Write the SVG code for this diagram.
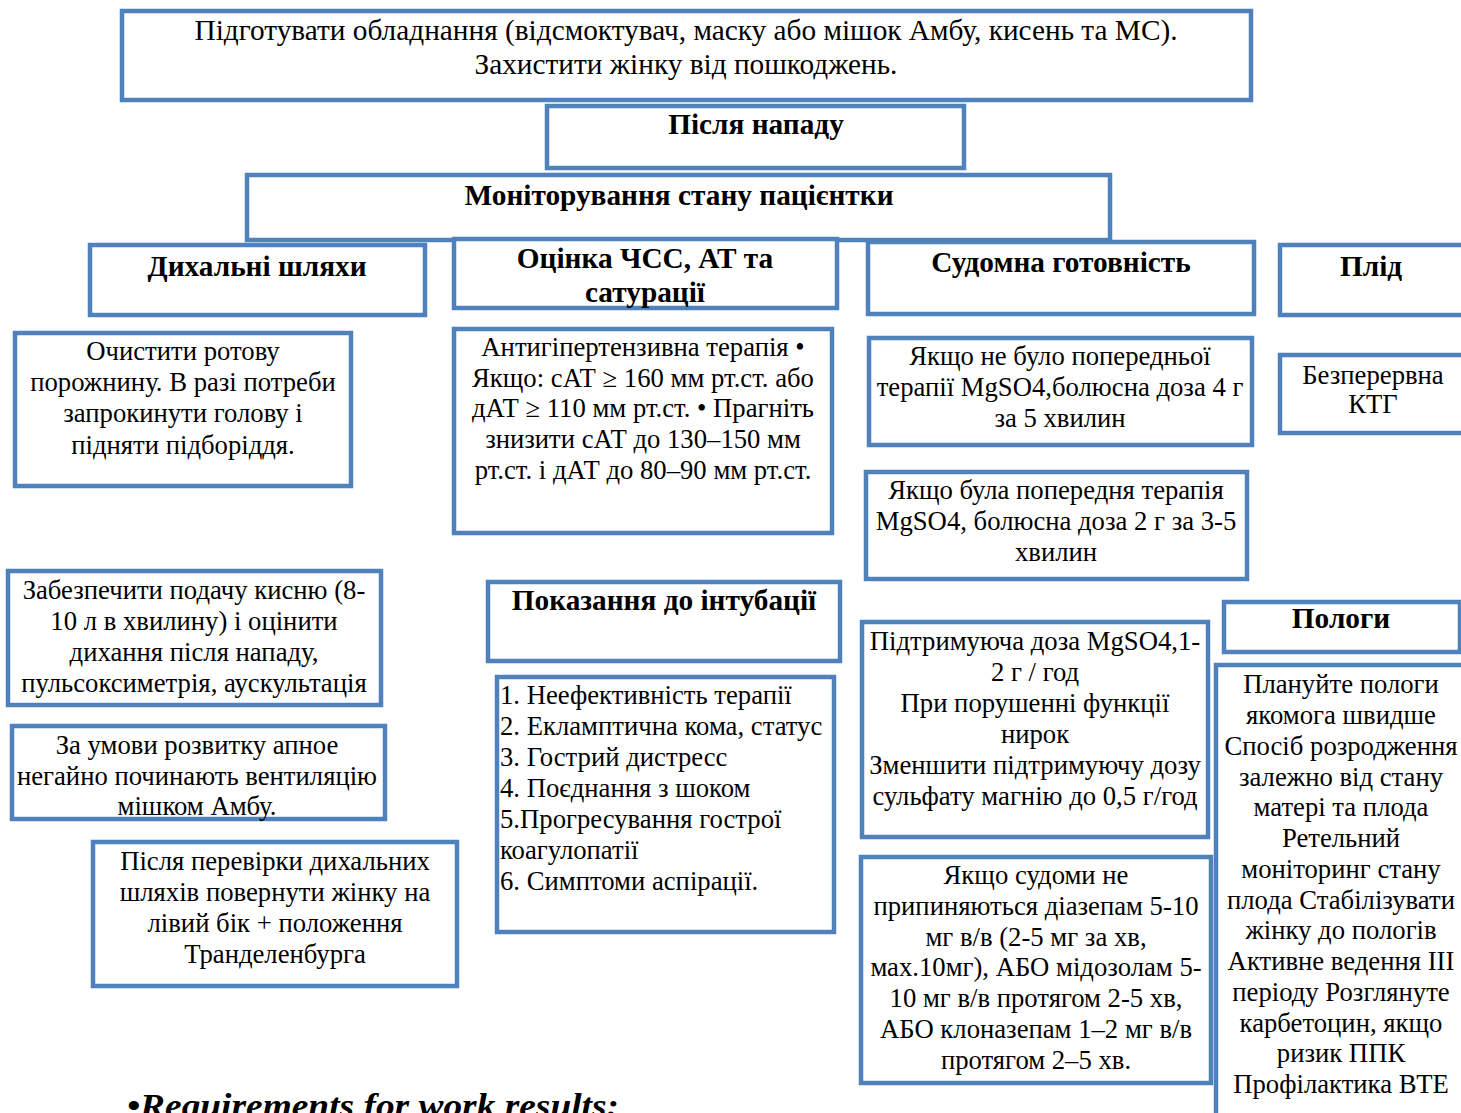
<svg xmlns="http://www.w3.org/2000/svg" width="1461" height="1113" viewBox="0 0 1461 1113">
<style>
.b{fill:#fff;stroke:#4F81BD;stroke-width:4.5}
text{font-family:"Liberation Serif","Times New Roman",serif;fill:#000}
.t{font-size:26.7px;text-anchor:middle}
.h{font-size:29.3px;font-weight:bold;text-anchor:middle}
.l{font-size:26.7px}
.top{font-size:29.3px;text-anchor:middle}
</style>
<rect width="1461" height="1113" fill="#fff"/>
<g id="connectors"></g>
<g id="n-top"><rect class="b" x="122" y="11" width="1129" height="89"/>
<text class="top" x="686" y="40">Підготувати обладнання (відсмоктувач, маску або мішок Амбу, кисень та МС).</text>
<text class="top" x="686" y="74">Захистити жінку від пошкоджень.</text></g>
<g id="n-after"><rect class="b" x="547" y="106" width="417" height="62"/>
<text class="h" x="756" y="134">Після нападу</text></g>
<g id="n-monitor"><rect class="b" x="247" y="175" width="863" height="65"/>
<text class="h" x="679" y="205">Моніторування стану пацієнтки</text></g>
<g id="n-airway"><rect class="b" x="90" y="245" width="335" height="70"/>
<text class="h" x="257" y="276">Дихальні шляхи</text></g>
<g id="n-hr"><rect class="b" x="454" y="239" width="383" height="69"/>
<text class="h" x="645" y="268">Оцінка ЧСС, АТ та</text>
<text class="h" x="645" y="302">сатурації</text></g>
<g id="n-seizure"><rect class="b" x="868" y="242" width="386" height="72"/>
<text class="h" x="1061" y="272">Судомна готовність</text></g>
<g id="n-fetus"><rect class="b" x="1280" y="245" width="190" height="70"/>
<text class="h" x="1371" y="276">Плід</text></g>
<g id="n-clear"><rect class="b" x="15" y="333" width="336" height="153"/>
<text class="t" x="183" y="360">Очистити ротову</text>
<text class="t" x="183" y="391">порожнину. В разі потреби</text>
<text class="t" x="183" y="422">запрокинути голову і</text>
<text class="t" x="183" y="454">підняти підборіддя.</text></g>
<g id="n-antihyp"><rect class="b" x="454" y="329" width="378" height="204"/>
<text class="t" x="643" y="356">Антигіпертензивна терапія •</text>
<text class="t" x="643" y="387">Якщо: сАТ ≥ 160 мм рт.ст. або</text>
<text class="t" x="643" y="417">дАТ ≥ 110 мм рт.ст. • Прагніть</text>
<text class="t" x="643" y="448">знизити сАТ до 130–150 мм</text>
<text class="t" x="643" y="479">рт.ст. і дАТ до 80–90 мм рт.ст.</text></g>
<g id="n-nomg"><rect class="b" x="869" y="338" width="383" height="107"/>
<text class="t" x="1060" y="365">Якщо не було попередньої</text>
<text class="t" x="1060" y="396">терапії MgSO4,болюсна доза 4 г</text>
<text class="t" x="1060" y="427">за 5 хвилин</text></g>
<g id="n-ctg"><rect class="b" x="1280" y="355" width="190" height="78"/>
<text class="t" x="1373" y="384">Безперервна</text>
<text class="t" x="1373" y="413">КТГ</text></g>
<g id="n-wasmg"><rect class="b" x="866" y="472" width="381" height="107"/>
<text class="t" x="1056" y="499">Якщо була попередня терапія</text>
<text class="t" x="1056" y="530">MgSO4, болюсна доза 2 г за 3-5</text>
<text class="t" x="1056" y="561">хвилин</text></g>
<g id="n-oxygen"><rect class="b" x="8" y="571" width="373" height="134"/>
<text class="t" x="194" y="599">Забезпечити подачу кисню (8-</text>
<text class="t" x="194" y="630">10 л в хвилину) і оцінити</text>
<text class="t" x="194" y="661">дихання після нападу,</text>
<text class="t" x="194" y="692">пульсоксиметрія, аускультація</text></g>
<g id="n-intub"><rect class="b" x="488" y="582" width="352" height="79"/>
<text class="h" x="664" y="610">Показання до інтубації</text></g>
<g id="n-intub-list"><rect class="b" x="497" y="677" width="337" height="255"/>
<text class="l" x="500" y="704">1. Неефективність терапії</text>
<text class="l" x="500" y="735">2. Екламптична кома, статус</text>
<text class="l" x="500" y="766">3. Гострий дистресс</text>
<text class="l" x="500" y="797">4. Поєднання з шоком</text>
<text class="l" x="500" y="828">5.Прогресування гострої</text>
<text class="l" x="500" y="859">коагулопатії</text>
<text class="l" x="500" y="890">6. Симптоми аспірації.</text></g>
<g id="n-maint"><rect class="b" x="862" y="622" width="346" height="215"/>
<text class="t" x="1035" y="650">Підтримуюча доза MgSO4,1-</text>
<text class="t" x="1035" y="681">2 г / год</text>
<text class="t" x="1035" y="712">При порушенні функції</text>
<text class="t" x="1035" y="743">нирок</text>
<text class="t" x="1035" y="774">Зменшити підтримуючу дозу</text>
<text class="t" x="1035" y="805">сульфату магнію до 0,5 г/год</text></g>
<g id="n-labor"><rect class="b" x="1224" y="602" width="236" height="50"/>
<text class="h" x="1341" y="628">Пологи</text></g>
<g id="n-labor-text"><rect class="b" x="1216" y="665" width="260" height="470"/>
<text class="t" x="1341" y="693">Плануйте пологи</text>
<text class="t" x="1341" y="724">якомога швидше</text>
<text class="t" x="1341" y="755">Спосіб розродження</text>
<text class="t" x="1341" y="786">залежно від стану</text>
<text class="t" x="1341" y="816">матері та плода</text>
<text class="t" x="1341" y="847">Ретельний</text>
<text class="t" x="1341" y="878">моніторинг стану</text>
<text class="t" x="1341" y="909">плода Стабілізувати</text>
<text class="t" x="1341" y="939">жінку до пологів</text>
<text class="t" x="1341" y="970">Активне ведення ІІІ</text>
<text class="t" x="1341" y="1001">періоду Розглянуте</text>
<text class="t" x="1341" y="1032">карбетоцин, якщо</text>
<text class="t" x="1341" y="1062">ризик ППК</text>
<text class="t" x="1341" y="1093">Профілактика ВТЕ</text></g>
<g id="n-apnea"><rect class="b" x="12" y="726" width="373" height="93"/>
<text class="t" x="197" y="754">За умови розвитку апное</text>
<text class="t" x="197" y="785">негайно починають вентиляцію</text>
<text class="t" x="197" y="815">мішком Амбу.</text></g>
<g id="n-turn"><rect class="b" x="93" y="842" width="364" height="144"/>
<text class="t" x="275" y="870">Після перевірки дихальних</text>
<text class="t" x="275" y="901">шляхів повернути жінку на</text>
<text class="t" x="275" y="932">лівий бік + положення</text>
<text class="t" x="275" y="963">Транделенбурга</text></g>
<g id="n-diazepam"><rect class="b" x="861" y="857" width="350" height="226"/>
<text class="t" x="1036" y="884">Якщо судоми не</text>
<text class="t" x="1036" y="915">припиняються діазепам 5-10</text>
<text class="t" x="1036" y="946">мг в/в (2-5 мг за хв,</text>
<text class="t" x="1036" y="976">мах.10мг), АБО мідозолам 5-</text>
<text class="t" x="1036" y="1007">10 мг в/в протягом 2-5 хв,</text>
<text class="t" x="1036" y="1038">АБО клоназепам 1–2 мг в/в</text>
<text class="t" x="1036" y="1069">протягом 2–5 хв.</text></g>
<text x="127" y="1117" textLength="492" lengthAdjust="spacingAndGlyphs" style="font-size:34px;font-weight:bold;font-style:italic">•Requirements for work results:</text>
</svg>
